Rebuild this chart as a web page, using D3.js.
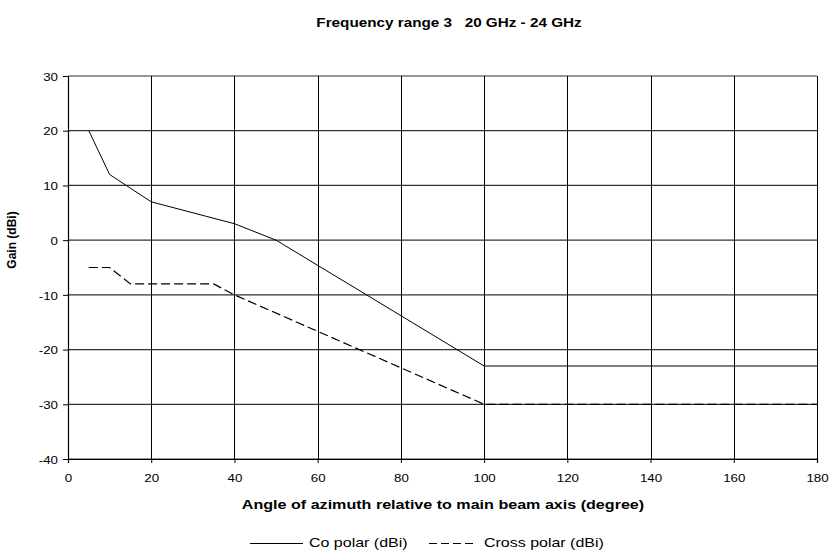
<!DOCTYPE html>
<html>
<head>
<meta charset="utf-8">
<script src="https://cdn.jsdelivr.net/npm/d3@7"></script>
<style>
  html, body { margin: 0; padding: 0; background: #fff; }
  svg { display: block; font-family: "Liberation Sans", Arial, sans-serif; }
  text { white-space: pre; }
</style>
</head>
<body>
<svg id="chart" width="834" height="551"></svg>
<script>
// ---- data ----
const coPolarAngles = [5, 10, 20, 40, 50, 100, 180];
const coPolarGain   = [20, 12, 7, 3, 0, -23, -23];
const crossPolarAngles = [5, 10, 15, 35, 40, 100, 180];
const crossPolarGain   = [-5, -5, -8, -8, -10, -30, -30];
const xTicks = [0, 20, 40, 60, 80, 100, 120, 140, 160, 180];
const yTicks = [-40, -30, -20, -10, 0, 10, 20, 30];
const seriesNames = ["Co polar (dBi)", "Cross polar (dBi)"];
const titleText = "Frequency range 3   20 GHz - 24 GHz";
const xLabelText = "Angle of azimuth relative to main beam axis (degree)";
const yLabelText = "Gain (dBi)";

// ---- layout ----
const svg = d3.select("#chart");
const pLeft = 68, pRight = 817, pTop = 76, pBottom = 459;
const stretch = 1.22;

const x = d3.scaleLinear().domain([0, 180]).range([pLeft, pRight]);
const y = d3.scaleLinear().domain([-40, 30]).range([pBottom, pTop]);

function widen(sel, f) {
  sel.each(function () {
    const len = this.getComputedTextLength();
    d3.select(this).attr("textLength", len * f).attr("lengthAdjust", "spacingAndGlyphs");
  });
}

// grid
svg.append("g").selectAll("line").data(yTicks).join("line")
  .attr("x1", pLeft).attr("x2", pRight)
  .attr("y1", d => y(d)).attr("y2", d => y(d))
  .attr("stroke", "#333").attr("stroke-width", 1.2);
svg.append("g").selectAll("line").data(xTicks).join("line")
  .attr("x1", d => Math.round(x(d)) + 0.5).attr("x2", d => Math.round(x(d)) + 0.5)
  .attr("y1", pTop).attr("y2", pBottom)
  .attr("stroke", "#000").attr("stroke-width", 1);

// axes
const fmt = d => String(d);
const xAxis = d3.axisBottom(x).tickValues(xTicks).tickSize(4).tickPadding(11).tickFormat(fmt);
const yAxis = d3.axisLeft(y).tickValues(yTicks).tickSize(5).tickPadding(5).tickFormat(fmt);
const gx = svg.append("g").attr("transform", `translate(0,${pBottom})`).call(xAxis);
const gy = svg.append("g").attr("transform", `translate(${pLeft},0)`).call(yAxis);
[gx, gy].forEach(g => {
  g.select(".domain").attr("stroke", "#000").attr("stroke-width", 1.2);
  g.selectAll(".tick line").attr("stroke", "#000");
  g.selectAll("text").attr("font-family", "Liberation Sans, Arial, sans-serif")
    .attr("font-size", 11.8).attr("fill", "#000");
});
gy.selectAll("text").attr("dy", "0.36em");
widen(gx.selectAll("text"), 1.13);
widen(gy.selectAll("text"), 1.13);

// lines
const line = d3.line().x(d => x(d[0])).y(d => y(d[1]));
const coData = coPolarAngles.map((a, i) => [a, coPolarGain[i]]);
const crossData = crossPolarAngles.map((a, i) => [a, crossPolarGain[i]]);
svg.append("path").datum(coData).attr("d", line)
  .attr("fill", "none").attr("stroke", "#000").attr("stroke-width", 1);
svg.append("path").datum(crossData).attr("d", line)
  .attr("fill", "none").attr("stroke", "#000").attr("stroke-width", 1.2)
  .attr("stroke-dasharray", "9,4");

// title
const t = svg.append("text").attr("x", 449).attr("y", 27).attr("text-anchor", "middle")
  .attr("font-size", 12.5).attr("font-weight", "bold").text(titleText);
widen(t, stretch);

// x label
const xl = svg.append("text").attr("x", 443).attr("y", 509).attr("text-anchor", "middle")
  .attr("font-size", 13.2).attr("font-weight", "bold").text(xLabelText);
widen(xl, stretch);

// y label
svg.append("text").attr("transform", "translate(16,240) rotate(-90)")
  .attr("text-anchor", "middle").attr("font-size", 12).attr("font-weight", "bold")
  .text(yLabelText);

// legend
const legend = svg.append("g");
legend.append("line").attr("x1", 250).attr("x2", 303).attr("y1", 543.5).attr("y2", 543.5)
  .attr("stroke", "#000").attr("stroke-width", 1);
const l1 = legend.append("text").attr("x", 309).attr("y", 547).attr("font-size", 13.1).text(seriesNames[0]);
widen(l1, stretch);
legend.append("line").attr("x1", 429).attr("x2", 473).attr("y1", 543.5).attr("y2", 543.5)
  .attr("stroke", "#000").attr("stroke-width", 1.2).attr("stroke-dasharray", "8,4");
const l2 = legend.append("text").attr("x", 484).attr("y", 547).attr("font-size", 13.1).text(seriesNames[1]);
widen(l2, stretch);
</script>
</body>
</html>
